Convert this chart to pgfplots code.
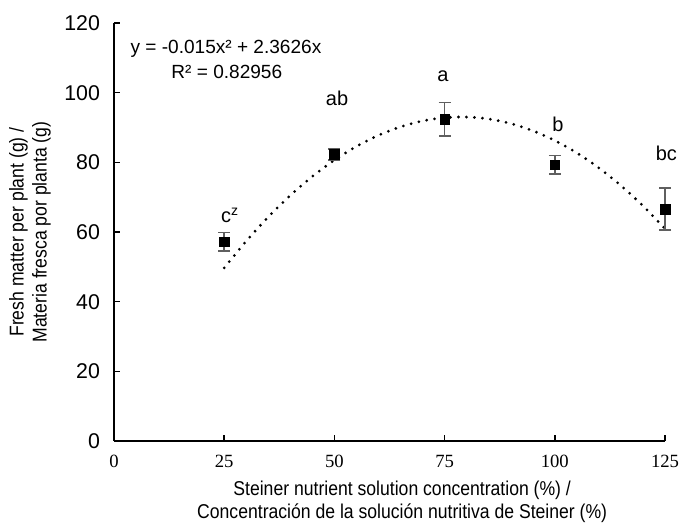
\documentclass[border=0pt]{standalone}
\usepackage{pgfplots}
\pgfplotsset{compat=1.18}
\usepackage{fontspec}
\setmainfont{Liberation Sans}
\newfontfamily\serifdigits{Liberation Serif}
\newfontfamily\narrow[FakeStretch=0.88]{Liberation Sans}
\definecolor{errgray}{HTML}{5F5F5F}
\begin{document}
\begin{tikzpicture}
\begin{axis}[
  scale only axis,
  width=413.25pt, height=313.5pt,
  xmin=0, xmax=125, ymin=0, ymax=120,
  axis x line*=bottom, axis y line*=left,
  axis line style={line width=1.3pt, black},
  xtick={0,25,50,75,100,125},
  ytick={0,20,40,60,80,100,120},
  tick align=inside,
  major tick length=4.5pt,
  tick style={line width=1.1pt, black},
  /pgf/number format/assume math mode=true,
  yticklabel style={font=\fontsize{16}{18}\selectfont, xshift=-7pt},
  xticklabel style={font=\serifdigits\fontsize{14}{17}\selectfont, yshift=-7pt},
  xlabel={Steiner nutrient solution concentration (\%) /\\Concentración de la solución nutritiva de Steiner (\%)},
  xlabel style={at={(axis description cs:0.523,-0.1447)}, anchor=center, align=center, font=\narrow\fontsize{15}{17.25}\selectfont},
  ylabel={Fresh matter per plant (g) /\\Materia fresca por planta (g)},
  ylabel style={at={(axis description cs:-0.1525,0.5)}, anchor=center, rotate=0, align=center, font=\narrow\fontsize{15}{17.25}\selectfont},
  clip=false,
]
% trendline y = -0.015x^2 + 2.3626x (values tabulated)
\addplot[black, line width=2.3pt, line cap=round, dash pattern=on 0pt off 6pt, smooth] coordinates {
(25,49.69) (30,57.38) (35,64.32) (40,70.50) (45,75.94) (50,80.63) (55,84.57)
(60,87.76) (65,90.19) (70,91.88) (75,92.82) (80,93.01) (85,92.45) (90,91.13)
(95,89.07) (100,86.26) (105,82.70) (110,78.39) (115,73.32) (120,67.51) (125,60.95)
};
% data with error bars
\addplot[only marks, mark=square*, mark size=3.6pt, mark options={black},
  error bars/.cd, y dir=both, y explicit,
  error bar style={errgray, line width=1.2pt},
  error mark options={errgray, rotate=90, mark size=4.5pt, line width=1.2pt}]
coordinates {
(25,57.2) +- (0,2.6)
(50,82.3) +- (0,1.6)
(75,92.4) +- (0,4.8)
(100,79.3) +- (0,2.7)
(125,66.6) +- (0,6.0)
};
\node[font=\fontsize{14.3}{17}\selectfont] at (axis cs:25.4,112.6) {y = -0.015x² + 2.3626x};
\node[font=\fontsize{14.3}{17}\selectfont] at (axis cs:25.6,106.0) {R² = 0.82956};
\node[font=\fontsize{15}{17}\selectfont] at (axis cs:26.3,64.7) {c\textsuperscript{z}};
\node[font=\fontsize{15}{17}\selectfont] at (axis cs:50.6,98.5) {ab};
\node[font=\fontsize{15}{17}\selectfont] at (axis cs:74.6,104.6) {a};
\node[font=\fontsize{15}{17}\selectfont] at (axis cs:100.7,90.8) {b};
\node[font=\fontsize{15}{17}\selectfont] at (axis cs:125.3,82.7) {bc};
\end{axis}
\pgfresetboundingbox
\path ([shift={(-85.5pt,-64.5pt)}]current axis.south west) rectangle ([shift={(12pt,17.25pt)}]current axis.north east);
\end{tikzpicture}
\end{document}
